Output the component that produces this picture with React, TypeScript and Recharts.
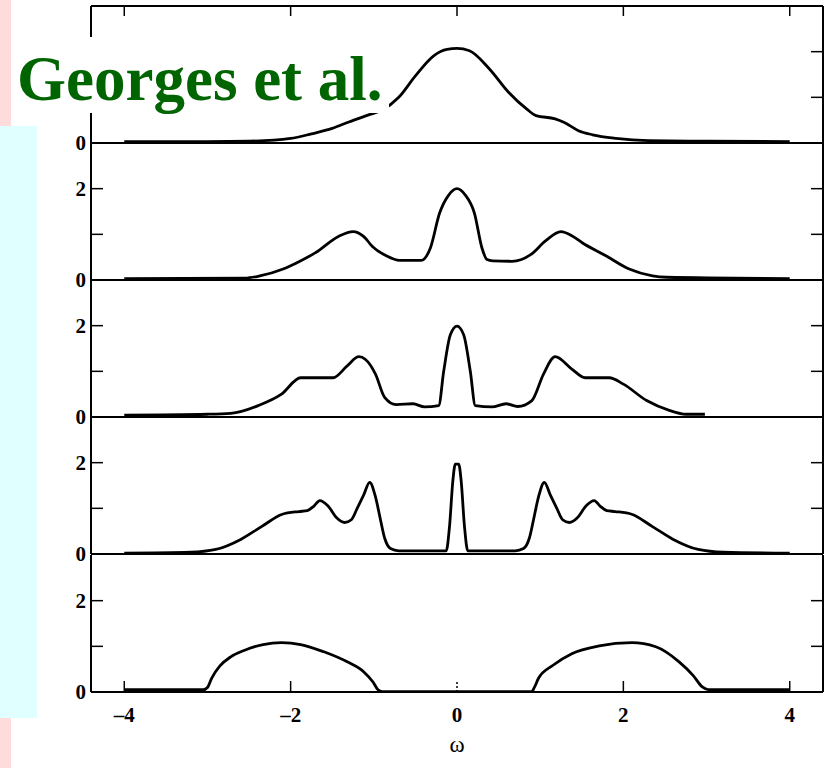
import React from 'react';
import { LineChart, Line, XAxis, YAxis } from 'recharts';

// frequency grid + spectral density for each of the five panels (top to bottom)
const w1 = [-4, -3, -2.5, -2.0, -1.75, -1.5, -1.3, -1.07, -0.9, -0.7, -0.5, -0.28, -0.12, 0, 0.15, 0.39, 0.62, 0.84, 0.95, 1.18, 1.29, 1.46, 1.63, 1.91, 2.3, 3, 4];
const a1 = [0.03, 0.03, 0.04, 0.1, 0.2, 0.32, 0.46, 0.61, 0.72, 1.0, 1.47, 1.91, 2.05, 2.07, 2.02, 1.62, 1.11, 0.74, 0.6, 0.53, 0.45, 0.27, 0.18, 0.1, 0.05, 0.04, 0.03];

const w2 = [-4, -2.55, -2.37, -2.09, -1.9, -1.7, -1.42, -1.25, -1.12, -1.02, -0.85, -0.69, -0.43, -0.32, -0.21, -0.1, 0, 0.1, 0.21, 0.3, 0.36, 0.43, 0.66, 0.89, 1.06, 1.25, 1.38, 1.51, 1.79, 2.07, 2.35, 2.52, 4];
const a2 = [0.03, 0.04, 0.09, 0.24, 0.4, 0.6, 0.96, 1.06, 0.95, 0.74, 0.53, 0.43, 0.43, 0.7, 1.46, 1.86, 2.0, 1.86, 1.46, 0.7, 0.45, 0.42, 0.41, 0.56, 0.85, 1.06, 0.97, 0.81, 0.53, 0.24, 0.09, 0.06, 0.03];

const w3 = [-4, -3.0, -2.72, -2.39, -2.11, -1.88, -1.71, -1.49, -1.32, -1.18, -1.1, -0.98, -0.87, -0.73, -0.53, -0.39, -0.22, -0.16, -0.08, 0, 0.08, 0.16, 0.22, 0.42, 0.59, 0.73, 0.9, 1.04, 1.18, 1.38, 1.54, 1.83, 2.0, 2.28, 2.56, 2.75, 2.98];
const a3 = [0.04, 0.06, 0.08, 0.25, 0.5, 0.86, 0.86, 0.86, 1.12, 1.32, 1.26, 0.94, 0.43, 0.27, 0.29, 0.22, 0.25, 1.0, 1.8, 1.99, 1.8, 1.0, 0.25, 0.22, 0.29, 0.23, 0.36, 0.94, 1.32, 1.05, 0.86, 0.86, 0.72, 0.36, 0.14, 0.06, 0.06];

const w4 = [-4, -3.2, -2.9, -2.6, -2.35, -2.1, -1.9, -1.8, -1.72, -1.65, -1.55, -1.45, -1.35, -1.27, -1.2, -1.12, -1.05, -0.98, -0.92, -0.87, -0.8, -0.7, -0.13, -0.09, -0.05, -0.02,
  0.02, 0.05, 0.09, 0.13, 0.7, 0.8, 0.87, 0.92, 0.98, 1.05, 1.12, 1.2, 1.27, 1.35, 1.45, 1.55, 1.65, 1.72, 1.8, 1.9, 2.1, 2.35, 2.6, 2.9, 3.2, 4];
const a4 = [0.02, 0.04, 0.1, 0.32, 0.6, 0.87, 0.93, 0.95, 1.05, 1.17, 1.05, 0.8, 0.69, 0.75, 1.0, 1.3, 1.57, 1.25, 0.75, 0.35, 0.12, 0.07, 0.07, 0.6, 1.6, 1.97,
  1.97, 1.6, 0.6, 0.07, 0.07, 0.12, 0.35, 0.75, 1.25, 1.57, 1.3, 1.0, 0.75, 0.69, 0.8, 1.05, 1.17, 1.05, 0.95, 0.93, 0.87, 0.6, 0.32, 0.1, 0.04, 0.02];

const w5 = [-4, -3.05, -3.0, -2.95, -2.85, -2.72, -2.56, -2.33, -2.11, -1.88, -1.6, -1.32, -1.12, -1.01, -0.95, -0.9, 0.9, 0.93, 0.98, 1.15, 1.38, 1.71, 2.1, 2.39, 2.67, 2.84, 2.95, 3.02, 4];
const a5 = [0.05, 0.05, 0.1, 0.3, 0.57, 0.77, 0.91, 1.04, 1.08, 1.04, 0.88, 0.66, 0.44, 0.22, 0.05, 0.01, 0.01, 0.1, 0.3, 0.58, 0.84, 1.01, 1.08, 0.99, 0.66, 0.36, 0.11, 0.05, 0.05];

const xTicks = [-4, -2, 0, 2, 4];
const xTickLabels = ['\u20134', '\u20132', '0', '2', '4'];
const yTicks = [0, 1, 2];

const panels = [
  { w: w1, a: a1 },
  { w: w2, a: a2 },
  { w: w3, a: a3 },
  { w: w4, a: a4 },
  { w: w5, a: a5 },
];

const SERIF = '"Liberation Serif", "Times New Roman", serif';
const PLOT_H = 137;
const zeroY = [143, 280, 417, 554, 692]; // page y of each panel's zero line

const labelStyle = (size: number, bold = true) => ({
  fontFamily: SERIF,
  fontWeight: bold ? 'bold' : 'normal',
  fontSize: `${size}px`,
  fill: '#000',
});

// left ticks point inward; the top panel's "2" sits under the title box, so it is left out
const makeLeftTick = (hideTwo: boolean) => (props: any) => {
  const { x, y, payload } = props;
  const v = payload.value;
  const showText = v === 0 || (v === 2 && !hideTwo);
  return (
    <g>
      {v > 0 && <line x1={x} x2={x + 12} y1={y} y2={y} stroke="#000" strokeWidth={1.5} />}
      {showText && (
        <text x={x - 5} y={y + 7} textAnchor="end" style={labelStyle(21)}>
          {v}
        </text>
      )}
    </g>
  );
};

const RightTick = (props: any) => {
  const { x, y, payload } = props;
  if (payload.value === 0) return <g />;
  return <line x1={x} x2={x - 12} y1={y} y2={y} stroke="#000" strokeWidth={1.5} />;
};

const TopTick = (props: any) => {
  const { x, y } = props;
  return <line x1={x} x2={x} y1={y} y2={y + 10} stroke="#000" strokeWidth={1.5} />;
};

const BottomTick = (props: any) => {
  const { x, y, payload, index } = props;
  const i = xTicks.indexOf(payload.value);
  return (
    <g>
      <line x1={x} x2={x} y1={y} y2={y - 11} stroke="#000" strokeWidth={1.5} strokeDasharray={payload.value === 0 ? '2 2' : undefined} />
      <text x={x} y={y + 30} textAnchor="middle" style={labelStyle(21)}>
        {xTickLabels[i >= 0 ? i : index]}
      </text>
      {payload.value === 0 && (
        <text x={x} y={y + 60} textAnchor="middle" style={labelStyle(23, false)}>
          ω
        </text>
      )}
    </g>
  );
};

const Panel = ({ idx }: { idx: number }) => {
  const p = panels[idx];
  const data = p.w.map((w, i) => ({ w, a: p.a[i] }));
  const isTop = idx === 0;
  const isBottom = idx === panels.length - 1;
  const topH = isTop ? 6 : 0;
  const botH = isBottom ? 70 : 12;
  const top = zeroY[idx] - PLOT_H - topH;
  return (
    <div style={{ position: 'absolute', left: 0, top }}>
      <LineChart width={827} height={PLOT_H + topH + botH} data={data} margin={{ top: 0, right: 0, bottom: 0, left: 0 }}>
        {isTop && (
          <XAxis
            xAxisId="top"
            orientation="top"
            type="number"
            dataKey="w"
            domain={[-4.4, 4.4]}
            ticks={xTicks}
            interval={0}
            height={topH}
            tickSize={0}
            tickMargin={0}
            tickLine={false}
            axisLine={{ stroke: '#000', strokeWidth: 2 }}
            tick={TopTick}
            allowDataOverflow
          />
        )}
        <XAxis
          type="number"
          dataKey="w"
          domain={[-4.4, 4.4]}
          ticks={xTicks}
          interval={0}
          height={botH}
          tickSize={0}
          tickMargin={0}
          tickLine={false}
          axisLine={{ stroke: '#000', strokeWidth: 2 }}
          tick={isBottom ? BottomTick : false}
          allowDataOverflow
        />
        <YAxis
          domain={[0, 3]}
          ticks={yTicks}
          interval={0}
          width={91}
          tickSize={0}
          tickMargin={0}
          tickLine={false}
          axisLine={{ stroke: '#000', strokeWidth: 2 }}
          tick={makeLeftTick(isTop)}
          allowDataOverflow
        />
        <YAxis
          yAxisId="r"
          orientation="right"
          domain={[0, 3]}
          ticks={yTicks}
          interval={0}
          width={4}
          tickSize={0}
          tickMargin={0}
          tickLine={false}
          axisLine={{ stroke: '#000', strokeWidth: 2 }}
          tick={RightTick}
          allowDataOverflow
        />
        <Line type="monotone" dataKey="a" stroke="#000" strokeWidth={2.8} dot={false} isAnimationActive={false} />
      </LineChart>
    </div>
  );
};

export default function App() {
  return (
    <div style={{ position: 'absolute', left: 0, top: 0, width: 827, height: 768, background: '#fff', overflow: 'hidden' }}>
      <div style={{ position: 'absolute', left: 0, top: 0, width: 11, height: 126, background: '#ffdcdc' }} />
      <div style={{ position: 'absolute', left: 0, top: 126, width: 37, height: 592, background: '#e0ffff' }} />
      <div style={{ position: 'absolute', left: 0, top: 718, width: 11, height: 50, background: '#ffdcdc' }} />
      {panels.map((_, i) => (
        <Panel key={i} idx={i} />
      ))}
      <svg width={827} height={768} style={{ position: 'absolute', left: 0, top: 0, pointerEvents: 'none' }}>
        <rect x={11} y={37} width={378} height={76} fill="#fff" />
        <text x={17} y={100} fontFamily={SERIF} fontWeight="bold" fontSize={63} fill="#006400">
          Georges et al.
        </text>
      </svg>
    </div>
  );
}
